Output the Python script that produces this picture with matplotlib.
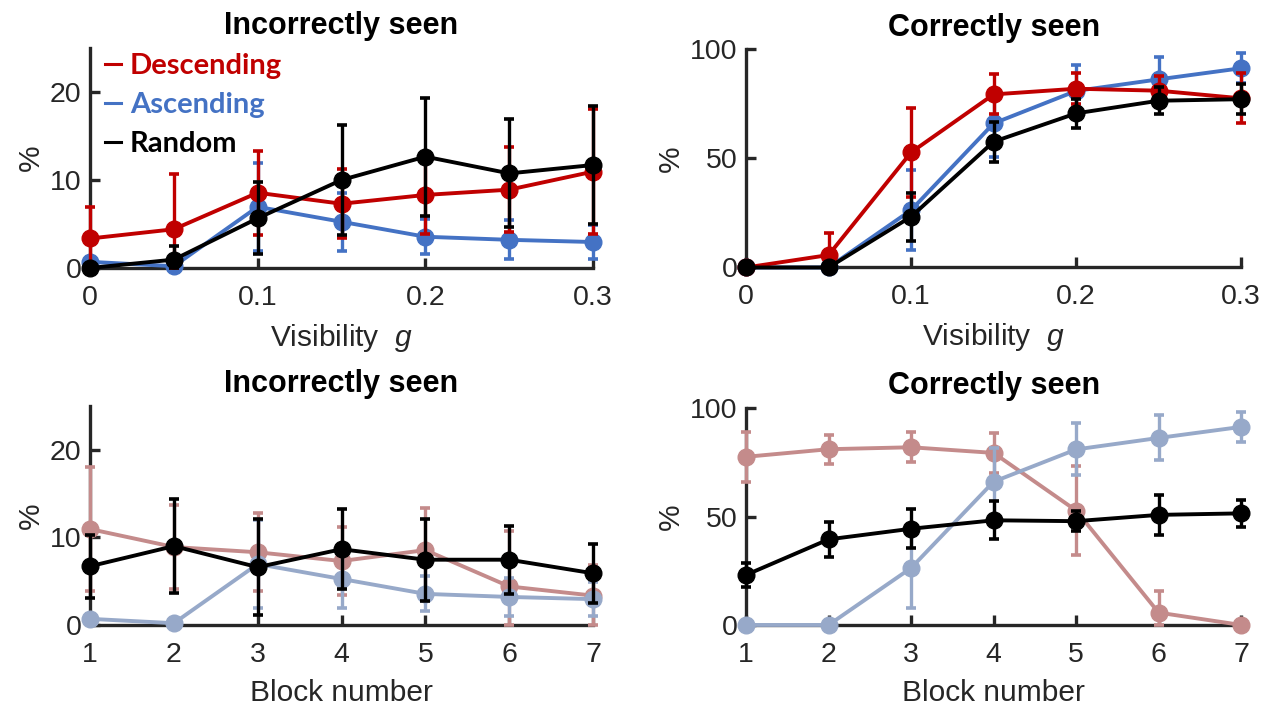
import numpy as np
import matplotlib
matplotlib.use("Agg")
import matplotlib.pyplot as plt
from matplotlib.lines import Line2D

plt.rcParams['font.family'] = ['Liberation Sans', 'DejaVu Sans']
plt.rcParams['mathtext.fontset'] = 'custom'
plt.rcParams['mathtext.it'] = 'Liberation Sans:italic'

# === Data ===
visibility = [0, 0.05, 0.1, 0.15, 0.2, 0.25, 0.3]
blocks = [1, 2, 3, 4, 5, 6, 7]

# incorrectly seen (%) vs visibility
inc_desc = [3.35, 4.4, 8.55, 7.3, 8.3, 8.9, 10.95]
inc_desc_err = [3.55, 6.3, 4.8, 3.9, 4.45, 4.8, 7.1]
inc_asc = [0.7, 0.2, 6.95, 5.25, 3.55, 3.2, 2.95]
inc_asc_err = [0.5, 0.3, 5.0, 3.3, 2.0, 2.2, 1.9]
inc_rand = [0.0, 0.95, 5.65, 10.0, 12.65, 10.75, 11.7]
inc_rand_err = [0.0, 1.5, 4.1, 6.2, 6.7, 6.15, 6.7]

# correctly seen (%) vs visibility
cor_desc = [0, 5.7, 52.8, 79.4, 82.0, 81.1, 77.6]
cor_desc_err = [0, 10.0, 20.5, 9.2, 7.0, 6.6, 11.5]
cor_asc = [0, 0, 26.3, 66.1, 81.0, 86.3, 91.4]
cor_asc_err = [0, 0, 18.4, 15.6, 12.0, 10.4, 7.0]
cor_rand = [0, 0, 23.3, 57.7, 70.7, 76.5, 77.2]
cor_rand_err = [0, 0, 11.0, 9.2, 6.5, 6.3, 6.8]

# random order, per block
blk_inc_rand = [6.7, 9.0, 6.6, 8.65, 7.45, 7.45, 5.9]
blk_inc_rand_err = [3.6, 5.35, 5.5, 4.6, 4.7, 3.9, 3.4]
blk_cor_rand = [23.1, 39.5, 44.4, 48.3, 47.9, 50.8, 51.5]
blk_cor_rand_err = [5.4, 8.0, 9.1, 8.7, 4.7, 9.2, 6.2]

# ascending blocks go g = 0 -> 0.3, descending blocks go g = 0.3 -> 0
blk_inc_asc, blk_inc_asc_err = inc_asc, inc_asc_err
blk_cor_asc, blk_cor_asc_err = cor_asc, cor_asc_err
blk_inc_desc, blk_inc_desc_err = inc_desc[::-1], inc_desc_err[::-1]
blk_cor_desc, blk_cor_desc_err = cor_desc[::-1], cor_desc_err[::-1]

RED = "#C00000"
BLUE = "#4472C4"
BLACK = "#000000"
RED_FADED = "#C48B8B"
BLUE_FADED = "#97A9C9"
AX_COL = "#262626"


def series(ax, x, y, err, color, z):
    y = np.asarray(y, float)
    err = np.asarray(err, float)
    lower = np.minimum(err, y)  # error bars stop at the axis (y = 0)
    ax.errorbar(x, y, yerr=[lower, err], color=color, lw=2.8, elinewidth=2.4,
                capsize=3.5, capthick=2.6, marker='o', markersize=12,
                clip_on=False, zorder=z)


def style(ax, xlim, xticks, xticklabels, ylim, yticks, xlabel, title):
    ax.set_xlim(xlim)
    ax.set_ylim(ylim)
    ax.set_xticks(xticks)
    ax.set_xticklabels(xticklabels)
    ax.set_yticks(yticks)
    for s in ['top', 'right']:
        ax.spines[s].set_visible(False)
    for s in ['left', 'bottom']:
        ax.spines[s].set_color(AX_COL)
        ax.spines[s].set_linewidth(2.4)
    ax.tick_params(direction='in', length=7, width=2.4, colors=AX_COL, labelsize=20.5)
    ax.tick_params(axis='x', pad=12)
    ax.tick_params(axis='y', pad=6)
    ax.set_xlabel(xlabel, fontsize=21.5, color=AX_COL, labelpad=8)
    ax.set_ylabel('%', fontsize=21.5, color=AX_COL, labelpad=4)
    ax.set_title(title, fontsize=22, fontweight='bold', pad=10)


fig = plt.figure(figsize=(12.71, 7.11), dpi=100)
ax1 = fig.add_axes([0.0708, 0.6231, 0.3958, 0.3094])
ax2 = fig.add_axes([0.587, 0.6238, 0.3895, 0.3066])
ax3 = fig.add_axes([0.0708, 0.121, 0.3958, 0.308])
ax4 = fig.add_axes([0.587, 0.121, 0.3895, 0.3048])

vis_ticks = [0, 0.1, 0.2, 0.3]
vis_labels = ['0', '0.1', '0.2', '0.3']
vis_label = 'Visibility  $g$'

# --- top left ---
series(ax1, visibility, inc_asc, inc_asc_err, BLUE, 3)
series(ax1, visibility, inc_desc, inc_desc_err, RED, 4)
series(ax1, visibility, inc_rand, inc_rand_err, BLACK, 5)
style(ax1, (0, 0.3), vis_ticks, vis_labels, (0, 25), [0, 10, 20], vis_label, 'Incorrectly seen')

handles = [Line2D([], [], color=c, lw=2.2) for c in (RED, BLUE, BLACK)]
leg = ax1.legend(handles, ['Descending', 'Ascending', 'Random'], loc='upper left',
                 bbox_to_anchor=(0.03, 0.975), frameon=False, borderpad=0, borderaxespad=0,
                 handlelength=0.55, handletextpad=0.3, labelspacing=0.44,
                 prop={'family': 'Lato', 'weight': 'bold', 'size': 21})
for txt, c in zip(leg.get_texts(), (RED, BLUE, BLACK)):
    txt.set_color(c)

# --- top right ---
series(ax2, visibility, cor_asc, cor_asc_err, BLUE, 3)
series(ax2, visibility, cor_desc, cor_desc_err, RED, 4)
series(ax2, visibility, cor_rand, cor_rand_err, BLACK, 5)
style(ax2, (0, 0.3), vis_ticks, vis_labels, (0, 100), [0, 50, 100], vis_label, 'Correctly seen')

# --- bottom left ---
series(ax3, blocks, blk_inc_desc, blk_inc_desc_err, RED_FADED, 3)
series(ax3, blocks, blk_inc_asc, blk_inc_asc_err, BLUE_FADED, 4)
series(ax3, blocks, blk_inc_rand, blk_inc_rand_err, BLACK, 5)
style(ax3, (1, 7), blocks, [str(b) for b in blocks], (0, 25), [0, 10, 20],
      'Block number', 'Incorrectly seen')

# --- bottom right ---
series(ax4, blocks, blk_cor_desc, blk_cor_desc_err, RED_FADED, 3)
series(ax4, blocks, blk_cor_asc, blk_cor_asc_err, BLUE_FADED, 4)
series(ax4, blocks, blk_cor_rand, blk_cor_rand_err, BLACK, 5)
style(ax4, (1, 7), blocks, [str(b) for b in blocks], (0, 100), [0, 50, 100],
      'Block number', 'Correctly seen')

fig.savefig('out.png', dpi=100)
